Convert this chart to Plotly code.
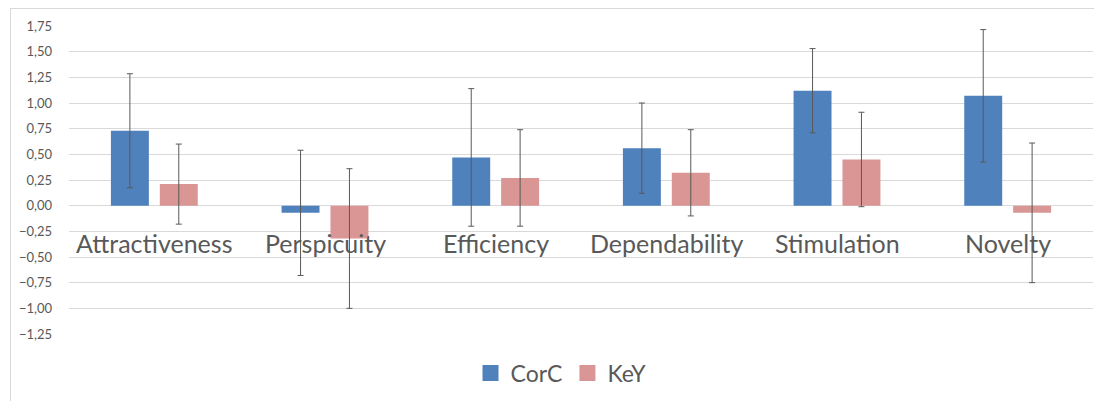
import plotly.graph_objects as go

categories = ["Attractiveness", "Perspicuity", "Efficiency", "Dependability", "Stimulation", "Novelty"]
corc_values = [0.73, -0.07, 0.47, 0.56, 1.12, 1.07]
corc_errors = [0.555, 0.61, 0.67, 0.44, 0.41, 0.645]
key_values = [0.21, -0.32, 0.27, 0.32, 0.45, -0.07]
key_errors = [0.39, 0.68, 0.47, 0.42, 0.46, 0.68]
y_ticks = [-1.25, -1.0, -0.75, -0.5, -0.25, 0.0, 0.25, 0.5, 0.75, 1.0, 1.25, 1.5, 1.75]

# page has an 8px body margin: figure origin sits at page (8, 8)
OFF = 8
W, H = 1102 - OFF, 401 - OFF
L, R, T = 69 - OFF, 9, 26 - OFF
B = H - (334 - OFF)
pw, ph = W - L - R, H - T - B

def px_x(p):  # page px -> paper
    return (p - OFF - L) / pw

def px_y(p):
    return (H - B - (p - OFF)) / ph

err_style = dict(type="data", visible=True, color="#595959", thickness=1, width=3)

fig = go.Figure()
fig.add_trace(go.Bar(name="CorC", x=categories, y=corc_values, showlegend=False,
                     marker=dict(color="#4f81bd", line=dict(width=0)),
                     error_y=dict(array=corc_errors, **err_style)))
fig.add_trace(go.Bar(name="KeY", x=categories, y=key_values, showlegend=False,
                     marker=dict(color="#d99694", line=dict(width=0)),
                     error_y=dict(array=key_errors, **err_style)))
# legend entries with larger square swatches
for name, col in [("CorC", "#4f81bd"), ("KeY", "#d99694")]:
    fig.add_trace(go.Scatter(name=name, x=[categories[0]], y=[None], mode="markers",
                             marker=dict(symbol="square", size=16, color=col),
                             showlegend=True, hoverinfo="skip"))

for c in categories:
    fig.add_annotation(x=c, y=-0.36, xref="x", yref="y", text=c, showarrow=False,
                       font=dict(family="Lato", size=25, color="#595959"),
                       yanchor="middle", xanchor="center")

# chart frame
fig.add_shape(type="line", xref="paper", yref="paper", x0=px_x(10), x1=px_x(1110),
              y0=px_y(8.5), y1=px_y(8.5), line=dict(color="#d9d9d9", width=1))
fig.add_shape(type="line", xref="paper", yref="paper", x0=px_x(10.5), x1=px_x(10.5),
              y0=px_y(8.5), y1=px_y(410), line=dict(color="#d9d9d9", width=1))

fig.update_layout(
    width=W, height=H,
    margin=dict(l=L, r=R, t=T, b=B, autoexpand=False),
    paper_bgcolor="white", plot_bgcolor="white",
    barmode="group", bargap=0.427, bargroupgap=0.224,
    separators=",.",
    font=dict(family="Lato", color="#595959"),
    showlegend=True,
    legend=dict(orientation="h", x=px_x(561), xanchor="center", y=px_y(373), yanchor="middle",
                font=dict(family="Lato", size=23, color="#595959"),
                itemwidth=30, traceorder="normal", itemsizing="trace"),
    xaxis=dict(showticklabels=False, showgrid=False, zeroline=False, showline=False,
               range=[-0.5, len(categories) - 0.5]),
    yaxis=dict(range=[-1.25, 1.75], tickvals=y_ticks, tickformat=".2f",
               showgrid=True, gridcolor="#d9d9d9", gridwidth=1,
               zeroline=True, zerolinecolor="#d9d9d9", zerolinewidth=1,
               showline=False, ticks="", ticklabelstandoff=16,
               tickfont=dict(family="Lato", size=13, color="#595959")),
)

fig.write_html("out.html")
